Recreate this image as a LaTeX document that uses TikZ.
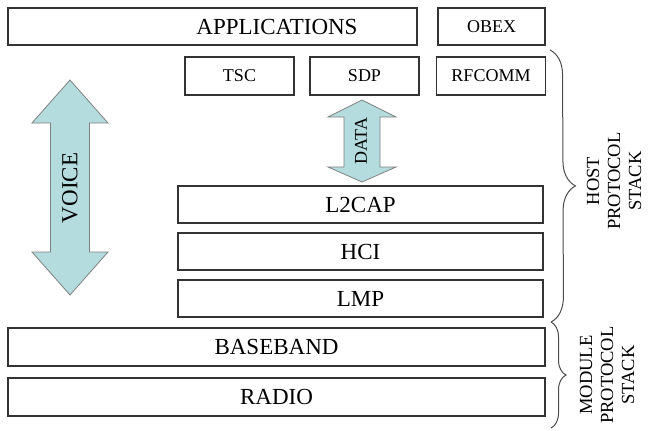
\documentclass[tikz,border=0pt]{standalone}
\usepackage{fontspec}
\setmainfont{Liberation Serif}
\usepackage{tikz}
\usetikzlibrary{positioning, decorations.pathreplacing}

\definecolor{flowblue}{RGB}{180,220,222}

\tikzset{
    layer/.style={draw=black!80, line width=1.6pt, inner sep=0pt},
    bigtxt/.style={font=\fontsize{23}{27}\selectfont},
    smalltxt/.style={font=\fontsize{18}{22}\selectfont},
    flow/.style={fill=flowblue, draw=black!50, line width=0.8pt},
    stackbrace/.style={decorate, decoration={brace, amplitude=#1}, draw=black!70, line width=1pt},
    stacktxt/.style={rotate=90, align=center, font=\fontsize{18.5}{21}\selectfont}
}

\begin{document}
\begin{tikzpicture}[x=1pt, y=-1pt]
        \useasboundingbox (0,0) rectangle (648,431);
        % Top row
        \node[layer, minimum width=409pt, minimum height=37pt] (app) at (212.5,26.5) {};
        \node[bigtxt] (apptext) at (277,26.5) {APPLICATIONS};
        \node[layer, smalltxt, minimum width=107pt, minimum height=37pt] (obex) at (491.5,26.5) {OBEX};
        % Second row
        \node[layer, smalltxt, minimum width=109pt, minimum height=38pt] (tsc) at (239.5,76) {TSC};
        \node[layer, smalltxt, minimum width=109pt, minimum height=38pt] (sdp) at (364.5,76) {SDP};
        \node[layer, smalltxt, minimum width=109pt, minimum height=38pt] (rfcomm) at (491,76) {RFCOMM};
        % Lower host layers
        \node[layer, bigtxt, minimum width=365pt, minimum height=37pt] (ltcap) at (360.5,204.5) {L2CAP};
        \node[layer, bigtxt, minimum width=365pt, minimum height=37pt] (hci) at (360.5,251.5) {HCI};
        \node[layer, bigtxt, minimum width=365pt, minimum height=37pt] (lmp) at (360.5,298.5) {LMP};
        % Module layers
        \node[layer, bigtxt, minimum width=537pt, minimum height=38pt] (baseband) at (276.5,347) {BASEBAND};
        \node[layer, bigtxt, minimum width=537pt, minimum height=38pt] (radio) at (276.5,397) {RADIO};
        % Voice arrow
        \draw[flow] (70,80) -- (108,123) -- (89.5,123) -- (89.5,252) -- (108,252) -- (70,295)
            -- (32,252) -- (50.5,252) -- (50.5,123) -- (32,123) -- cycle;
        \node[bigtxt, rotate=90] (voice) at (70,188) {VOICE};
        % Data arrow
        \draw[flow] (362,100) -- (396,117) -- (380,117) -- (380,167) -- (396,167) -- (362,182)
            -- (328,167) -- (344,167) -- (344,117) -- (328,117) -- cycle;
        \node[smalltxt, rotate=90] (data) at (361,141) {DATA};
        % Braces
        \draw[stackbrace=25pt] (550,50) -- (551,322);
        \draw[stackbrace=15pt] (551,322) -- (551,428);
        \node[stacktxt] (host) at (614,181) {HOST\\PROTOCOL\\STACK};
        \node[stacktxt] (module) at (607,375) {MODULE\\PROTOCOL\\STACK};
    \end{tikzpicture}
\end{document}
